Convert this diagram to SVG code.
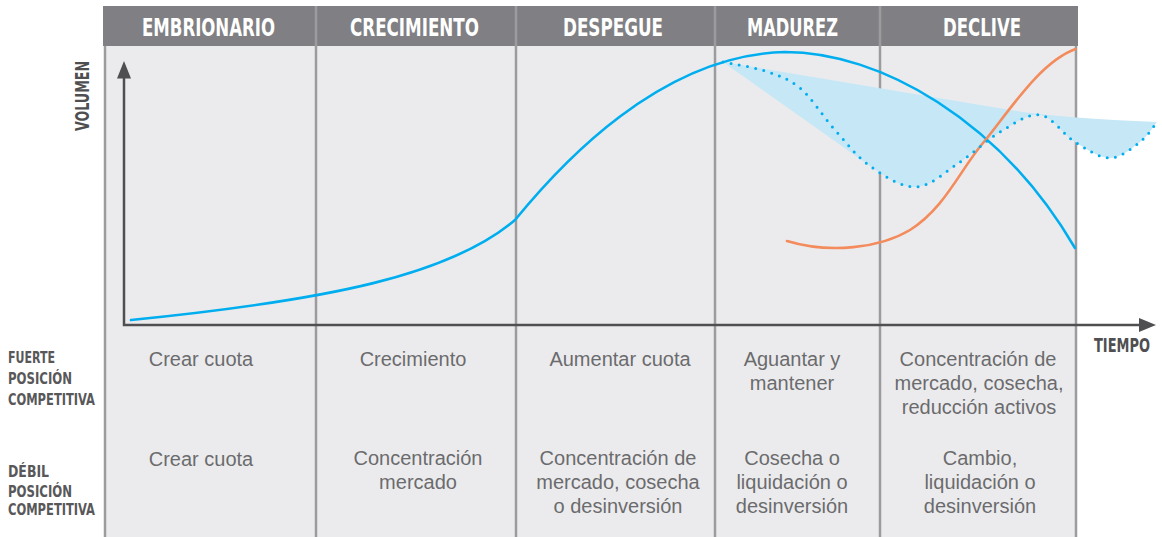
<svg xmlns="http://www.w3.org/2000/svg" width="1162" height="537" viewBox="0 0 1162 537">
<style>
.hd{font-family:"Liberation Sans Narrow","DejaVu Sans Condensed","Liberation Sans",sans-serif;font-weight:bold;font-size:25px;fill:#ffffff;text-anchor:middle}
.lb{font-family:"Liberation Sans Narrow","DejaVu Sans Condensed","Liberation Sans",sans-serif;font-weight:bold;font-size:16px;fill:#58585a}
.ax{font-family:"Liberation Sans Narrow","DejaVu Sans Condensed","Liberation Sans",sans-serif;font-weight:bold;font-size:19px;fill:#4f4f51}
.ct{font-family:"Liberation Sans",Arial,sans-serif;font-size:20px;fill:#6b6b6d;text-anchor:middle}
.dv{stroke:#9c9c9f;stroke-width:2.5;fill:none}
.axis{stroke:#4f4f51;stroke-width:2.5;fill:none}
.blue{stroke:#00aeef;stroke-width:2.6;fill:none;stroke-linecap:round}
.orange{stroke:#f38b5c;stroke-width:2.6;fill:none;stroke-linecap:round}
.dots{stroke:#00aeef;stroke-width:3;fill:none;stroke-linecap:round;stroke-dasharray:0 8.3}
</style>
<rect x="103" y="6" width="975" height="40" fill="#808084"/>
<rect x="105" y="46" width="971" height="491" fill="#ebebed"/>
<g id="dividers">
<line class="dv" x1="105" y1="46" x2="105" y2="537"/>
<line class="dv" x1="316" y1="6" x2="316" y2="537"/>
<line class="dv" x1="516" y1="6" x2="516" y2="537"/>
<line class="dv" x1="715" y1="6" x2="715" y2="537"/>
<line class="dv" x1="880" y1="6" x2="880" y2="537"/>
<line class="dv" x1="1076" y1="46" x2="1076" y2="537"/>
</g>
<g id="stage-embrionario">
<text class="hd" x="208.5" y="36" textLength="133" lengthAdjust="spacingAndGlyphs">EMBRIONARIO</text>
<text class="ct" x="201" y="366">Crear cuota</text>
<text class="ct" x="201" y="466">Crear cuota</text>
</g>
<g id="stage-crecimiento">
<text class="hd" x="414.5" y="36" textLength="129" lengthAdjust="spacingAndGlyphs">CRECIMIENTO</text>
<text class="ct" x="413" y="366">Crecimiento</text>
<text class="ct" x="418" y="465">Concentración</text>
<text class="ct" x="418" y="489">mercado</text>
</g>
<g id="stage-despegue">
<text class="hd" x="613" y="36" textLength="100" lengthAdjust="spacingAndGlyphs">DESPEGUE</text>
<text class="ct" x="620" y="366">Aumentar cuota</text>
<text class="ct" x="618" y="465">Concentración de</text>
<text class="ct" x="618" y="489">mercado, cosecha</text>
<text class="ct" x="618" y="513">o desinversión</text>
</g>
<g id="stage-madurez">
<text class="hd" x="792.5" y="36" textLength="91" lengthAdjust="spacingAndGlyphs">MADUREZ</text>
<text class="ct" x="792" y="366">Aguantar y</text>
<text class="ct" x="792" y="390">mantener</text>
<text class="ct" x="792" y="465">Cosecha o</text>
<text class="ct" x="792" y="489">liquidación o</text>
<text class="ct" x="792" y="513">desinversión</text>
</g>
<g id="stage-declive">
<text class="hd" x="982" y="36" textLength="78" lengthAdjust="spacingAndGlyphs">DECLIVE</text>
<text class="ct" x="978" y="366">Concentración de</text>
<text class="ct" x="979" y="390">mercado, cosecha,</text>
<text class="ct" x="979" y="414">reducción activos</text>
<text class="ct" x="980" y="465">Cambio,</text>
<text class="ct" x="980" y="489">liquidación o</text>
<text class="ct" x="980" y="513">desinversión</text>
</g>
<g id="row-labels">
<text class="lb" x="8" y="363" textLength="47" lengthAdjust="spacingAndGlyphs">FUERTE</text>
<text class="lb" x="8" y="384" textLength="64" lengthAdjust="spacingAndGlyphs">POSICIÓN</text>
<text class="lb" x="8" y="405" textLength="87" lengthAdjust="spacingAndGlyphs">COMPETITIVA</text>
<text class="lb" x="8" y="477" textLength="41" lengthAdjust="spacingAndGlyphs">DÉBIL</text>
<text class="lb" x="8" y="497" textLength="64" lengthAdjust="spacingAndGlyphs">POSICIÓN</text>
<text class="lb" x="8" y="515" textLength="87" lengthAdjust="spacingAndGlyphs">COMPETITIVA</text>
</g>
<g id="curves">
<path d="M723,62 L1010,110 Q1060,118 1157,122 C1154.2,125.3 1147.8,136 1140,142 C1132.2,148 1120.8,158 1110,158 C1099.2,158 1086.7,149.2 1075,142 C1063.3,134.8 1052.5,116.7 1040,115 C1027.5,113.3 1013.3,124.2 1000,132 C986.7,139.8 974,152.8 960,162 C946,171.2 931,186.3 916,187 C901,187.7 883.5,175.5 870,166 Z" fill="#c5e7f6"/>
<path class="blue" d="M131,320 C330,300 450,275 515,220 C560,165 660,55 785,52 C880,52 1000,120 1075,248"/>
<path class="orange" d="M787,241 C830,254 880,248 910,230 C945,208 960,170 983,143 C1010,110 1040,62 1075.5,49"/>
<path class="dots" d="M723,62 C730,63.5 752.2,66.7 765,71 C777.8,75.3 788.3,78.2 800,88 C811.7,97.8 823.3,117 835,130 C846.7,143 856.5,156.5 870,166 C883.5,175.5 901,187.7 916,187 C931,186.3 946,171.2 960,162 C974,152.8 986.7,139.8 1000,132 C1013.3,124.2 1027.5,113.3 1040,115 C1052.5,116.7 1063.3,134.8 1075,142 C1086.7,149.2 1099.2,158 1110,158 C1120.8,158 1132.2,148 1140,142 C1147.8,136 1154.2,125.3 1157,122"/>
</g>
<g id="connectors">
<polyline class="axis" points="124,78 124,325 1141,325"/>
<polygon points="117,78.5 124,61 131,78.5" fill="#4f4f51"/>
<polygon points="1139,318 1156,325 1139,332" fill="#4f4f51"/>
</g>
<g id="axis-labels">
<text class="ax" x="1094" y="352" textLength="56" lengthAdjust="spacingAndGlyphs">TIEMPO</text>
<text class="ax" transform="translate(89,96) rotate(-90)" x="0" y="0" text-anchor="middle" textLength="70" lengthAdjust="spacingAndGlyphs">VOLUMEN</text>
</g>
</svg>
